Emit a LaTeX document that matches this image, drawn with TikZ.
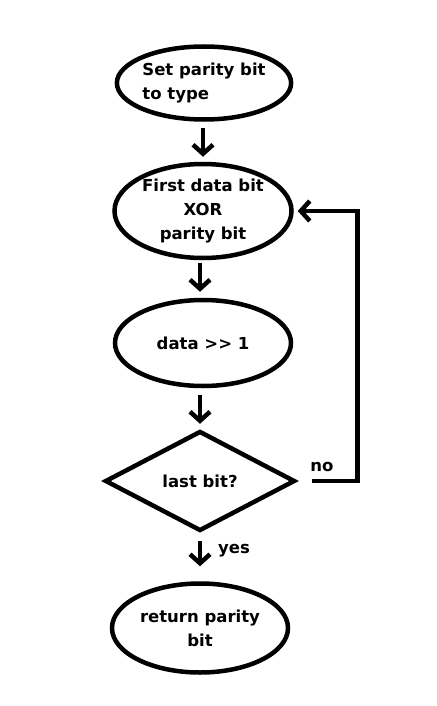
\documentclass[tikz,border=0pt]{standalone}
\usepackage{fontspec}
\setmainfont{DejaVu Sans}
\usetikzlibrary{shapes.geometric,arrows.meta}
\begin{document}
\begin{tikzpicture}[x=1pt,y=1pt,
    txt/.style={font=\bfseries\fontsize{16.5}{24}\selectfont},
    box/.style={txt,ellipse,draw,line width=4.5pt,inner sep=0pt,minimum width=176pt,minimum height=88pt,align=center},
    test/.style={txt,diamond,draw,line width=4.5pt,inner sep=0pt,minimum width=190pt,minimum height=100pt},
    flow/.style={-{Straight Barb[length=9pt,width=20pt]},line width=4.5pt}]
  \useasboundingbox (0,0) rectangle (436,-706);
  \node[box,minimum width=174pt,minimum height=73pt,align=left] (set) at (204,-83) {Set parity bit\\to type};
  \node[box,minimum width=177pt,minimum height=94pt] (xor) at (203,-211) {First data bit\\XOR\\parity bit};
  \node[box,minimum height=86pt] (shift) at (203,-343) {data {>}{>} 1};
  \node[test] (last) at (200,-481) {last bit?};
  \node[box,minimum height=89pt] (ret) at (200,-628) {return parity\\bit};
  \node[txt] (no) at (322,-467) {no};
  \node[txt] (yes) at (234,-551) {yes};
  \draw[flow,shorten <=6pt,shorten >=5pt] (set.south -| xor) -- (xor.north);
  \draw[flow,shorten <=3pt,shorten >=6pt] (xor.south -| last) -- (last.north |- shift.north);
  \draw[flow,shorten <=7pt,shorten >=5pt] (shift.south -| last) -- (last.north);
  \draw[flow,shorten <=8pt,shorten >=15pt] (last.south) -- (ret.north);
  \draw[flow,shorten <=15pt,shorten >=4pt] (last.east) -- ++(60,0) |- (xor.east);
\end{tikzpicture}
\end{document}
